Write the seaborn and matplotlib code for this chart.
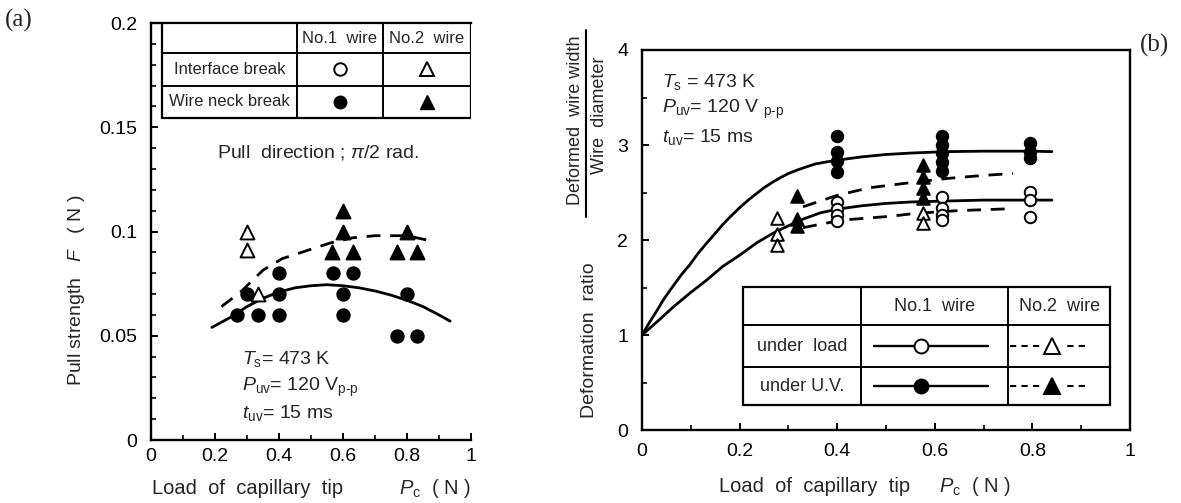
import numpy as np
import pandas as pd
import matplotlib
matplotlib.use("Agg")
import matplotlib.pyplot as plt
from matplotlib.patches import Rectangle
from matplotlib.ticker import MultipleLocator
import seaborn as sns

# ---------------- Panel (a): pull strength F (N) vs load Pc (N) ----------------
a_open_tri_x = [0.30, 0.30, 0.335]
a_open_tri_y = [0.100, 0.091, 0.070]
a_fill_tri_x = [0.60, 0.60, 0.566, 0.63, 0.80, 0.77, 0.83]
a_fill_tri_y = [0.110, 0.100, 0.090, 0.090, 0.100, 0.090, 0.090]
a_fill_circ_x = [0.27, 0.30, 0.335, 0.40, 0.40, 0.40, 0.57, 0.63, 0.60, 0.60, 0.80, 0.77, 0.83]
a_fill_circ_y = [0.060, 0.070, 0.060, 0.080, 0.070, 0.060, 0.080, 0.080, 0.070, 0.060, 0.070, 0.050, 0.050]

# trend curves (No.1 wire solid, No.2 wire dashed)
a_no1_x = [0.19, 0.25, 0.30, 0.35, 0.40, 0.45, 0.50, 0.55, 0.60, 0.65, 0.70, 0.75, 0.80, 0.85, 0.90, 0.935]
a_no1_y = [0.054, 0.059, 0.064, 0.068, 0.071, 0.073, 0.074, 0.0745, 0.074, 0.073, 0.0715, 0.0695, 0.067, 0.064, 0.060, 0.057]
a_no2_x = [0.22, 0.28, 0.35, 0.41, 0.49, 0.56, 0.63, 0.70, 0.80, 0.86]
a_no2_y = [0.064, 0.071, 0.0815, 0.087, 0.091, 0.0945, 0.097, 0.098, 0.098, 0.096]

a_xticks = [0, 0.2, 0.4, 0.6, 0.8, 1.0]
a_xticklabels = ["0", "0.2", "0.4", "0.6", "0.8", "1"]
a_yticks = [0, 0.05, 0.10, 0.15, 0.20]
a_yticklabels = ["0", "0.05", "0.1", "0.15", "0.2"]

# ---------------- Panel (b): deformation ratio vs load Pc (N) ----------------
b_open_circ_x = [0.40, 0.40, 0.40, 0.40, 0.615, 0.615, 0.615, 0.615, 0.795, 0.795, 0.795]
b_open_circ_y = [2.40, 2.33, 2.26, 2.20, 2.45, 2.34, 2.26, 2.21, 2.51, 2.42, 2.24]
b_fill_circ_x = [0.40, 0.40, 0.40, 0.40, 0.615, 0.615, 0.615, 0.615, 0.615, 0.795, 0.795, 0.795]
b_fill_circ_y = [3.10, 2.93, 2.83, 2.72, 3.10, 3.00, 2.92, 2.82, 2.73, 3.02, 2.93, 2.86]
b_open_tri_x = [0.277, 0.277, 0.277, 0.575, 0.575]
b_open_tri_y = [2.23, 2.06, 1.95, 2.28, 2.18]
b_fill_tri_x = [0.318, 0.318, 0.318, 0.575, 0.575, 0.575, 0.575]
b_fill_tri_y = [2.46, 2.22, 2.15, 2.79, 2.66, 2.55, 2.44]

b_uv1_x = [0, 0.015, 0.031, 0.045, 0.063, 0.08, 0.098, 0.115, 0.133, 0.15, 0.165, 0.18, 0.20,
           0.22, 0.235, 0.25, 0.268, 0.285, 0.30, 0.32, 0.337, 0.355, 0.37, 0.40, 0.45, 0.50,
           0.55, 0.62, 0.70, 0.80, 0.84]
b_uv1_y = [1.0, 1.13, 1.26, 1.38, 1.51, 1.63, 1.74, 1.86, 1.97, 2.07, 2.16, 2.24, 2.34,
           2.43, 2.49, 2.55, 2.61, 2.66, 2.70, 2.74, 2.77, 2.80, 2.815, 2.84, 2.875, 2.90,
           2.915, 2.93, 2.935, 2.935, 2.93]
b_load1_x = [0, 0.031, 0.063, 0.098, 0.133, 0.165, 0.20, 0.235, 0.268, 0.30, 0.33, 0.365,
             0.40, 0.45, 0.50, 0.55, 0.62, 0.70, 0.80, 0.84]
b_load1_y = [1.0, 1.14, 1.29, 1.44, 1.58, 1.72, 1.84, 1.97, 2.07, 2.15, 2.22, 2.285,
             2.325, 2.36, 2.385, 2.40, 2.41, 2.42, 2.42, 2.42]
b_uv2_x = [0.33, 0.40, 0.466, 0.56, 0.63, 0.70, 0.76]
b_uv2_y = [2.35, 2.47, 2.55, 2.61, 2.65, 2.68, 2.70]
b_load2_x = [0.33, 0.41, 0.51, 0.56, 0.65, 0.76]
b_load2_y = [2.13, 2.21, 2.25, 2.28, 2.31, 2.33]

b_xticks = [0, 0.2, 0.4, 0.6, 0.8, 1.0]
b_xticklabels = ["0", "0.2", "0.4", "0.6", "0.8", "1"]
b_yticks = [0, 1, 2, 3, 4]
b_yticklabels = ["0", "1", "2", "3", "4"]

# ---------------- style ----------------
sns.set_theme(style="ticks")
plt.rcParams.update({
    "font.family": ["Liberation Sans", "DejaVu Sans"],
    "mathtext.fontset": "custom",
    "mathtext.rm": "Liberation Sans",
    "mathtext.it": "Liberation Sans:italic",
    "mathtext.sf": "Liberation Sans",
    "axes.linewidth": 1.7,
    "axes.edgecolor": "black",
    "xtick.direction": "in",
    "ytick.direction": "in",
    "xtick.color": "black",
    "ytick.color": "black",
    "xtick.major.size": 5, "ytick.major.size": 5,
    "xtick.minor.size": 3.5, "ytick.minor.size": 3.5,
    "xtick.major.width": 1.4, "ytick.major.width": 1.4,
    "xtick.minor.width": 1.2, "ytick.minor.width": 1.2,
    "xtick.labelsize": 14, "ytick.labelsize": 14,
})

K = "black"
fig = plt.figure(figsize=(11.81, 5.03), dpi=100)
fig.patch.set_facecolor("white")
axA = fig.add_axes([0.1279, 0.1252, 0.2709, 0.829])
axB = fig.add_axes([0.5436, 0.1451, 0.4132, 0.7555])


def scatter(ax, x, y, marker, filled, s):
    sns.scatterplot(x=x, y=y, ax=ax, marker=marker, s=s,
                    color=(K if filled else "white"), edgecolor=K,
                    linewidth=1.4, zorder=4, legend=False)


def curve(ax, x, y, dashed):
    sns.lineplot(x=x, y=y, ax=ax, color=K, lw=2.0, sort=False, estimator=None,
                 zorder=3, legend=False)
    if dashed:
        ax.lines[-1].set_dashes([5, 3.5])


# ---- panel (a) ----
curve(axA, a_no1_x, a_no1_y, False)
curve(axA, a_no2_x, a_no2_y, True)
scatter(axA, a_fill_circ_x, a_fill_circ_y, "o", True, 80)
scatter(axA, a_open_tri_x, a_open_tri_y, "^", False, 100)
scatter(axA, a_fill_tri_x, a_fill_tri_y, "^", True, 100)

axA.set_xlim(0, 1)
axA.set_ylim(0, 0.2)
axA.set_xticks(a_xticks, a_xticklabels)
axA.set_yticks(a_yticks, a_yticklabels)
axA.xaxis.set_minor_locator(MultipleLocator(0.1))
axA.yaxis.set_minor_locator(MultipleLocator(0.01))
axA.tick_params(axis="y", which="both", pad=10)
axA.tick_params(axis="x", which="both", pad=6, top=False)
axA.tick_params(axis="y", which="both", right=False)
axA.spines["right"].set_visible(False)
axA.set_xlabel("")
axA.set_ylabel("")

# break-mode table at the top of panel (a)
tx = [0.034, 0.456, 0.725, 1.0]
ty = [0.2, 0.1856, 0.170, 0.1544]
axA.add_patch(Rectangle((tx[0], ty[3]), tx[3] - tx[0], ty[0] - ty[3],
                        facecolor="white", edgecolor=K, lw=1.6, zorder=5))
for yy in ty[1:3]:
    axA.plot([tx[0], tx[3]], [yy, yy], color=K, lw=1.4, zorder=6)
for xx in tx[1:3]:
    axA.plot([xx, xx], [ty[0], ty[3]], color=K, lw=1.4, zorder=6)
tab_fs = 12
rowc = [(ty[0] + ty[1]) / 2, (ty[1] + ty[2]) / 2, (ty[2] + ty[3]) / 2]
colc = [(tx[0] + tx[1]) / 2, (tx[1] + tx[2]) / 2, (tx[2] + tx[3]) / 2]
axA.text(colc[1], rowc[0], "No.1  wire", ha="center", va="center", fontsize=tab_fs, zorder=7)
axA.text(colc[2], rowc[0], "No.2  wire", ha="center", va="center", fontsize=tab_fs, zorder=7)
axA.text(colc[0], rowc[1], "Interface break", ha="center", va="center", fontsize=tab_fs, zorder=7)
axA.text(colc[0], rowc[2], "Wire neck break", ha="center", va="center", fontsize=tab_fs, zorder=7)
axA.plot(colc[1], rowc[1], "o", ms=9, mfc="white", mec=K, mew=1.4, zorder=7)
axA.plot(colc[2], rowc[1], "^", ms=10, mfc="white", mec=K, mew=1.4, zorder=7)
axA.plot(colc[1], rowc[2], "o", ms=9, mfc=K, mec=K, zorder=7)
axA.plot(colc[2], rowc[2], "^", ms=10, mfc=K, mec=K, zorder=7)

axA.text(0.52, 0.138, r"Pull  direction ; $\pi$/2 rad.", ha="center", va="center", fontsize=14)
axA.text(0.285, 0.0388, r"$T_{\rm s}$= 473 K", ha="left", va="center", fontsize=14)
axA.text(0.285, 0.0254, r"$P_{\rm uv}$= 120 V$_{\rm p\text{-}p}$", ha="left", va="center", fontsize=14)
axA.text(0.285, 0.0129, r"$t_{\rm uv}$= 15 ms", ha="left", va="center", fontsize=14)

# axis titles of panel (a)
fig.text(248 / 1181, 1 - 488 / 503, "Load  of  capillary  tip",
         ha="center", va="center", fontsize=14.5)
fig.text(435 / 1181, 1 - 488 / 503, r"$P_{\rm c}$  ( N )",
         ha="center", va="center", fontsize=14.5)
fig.text(0.065, 1 - 290 / 503, r"Pull strength   $F$   ( N )", rotation=90,
         ha="center", va="center", fontsize=14)

# ---- panel (b) ----
curve(axB, b_uv1_x, b_uv1_y, False)
curve(axB, b_load1_x, b_load1_y, False)
curve(axB, b_uv2_x, b_uv2_y, True)
curve(axB, b_load2_x, b_load2_y, True)
scatter(axB, b_fill_circ_x, b_fill_circ_y, "o", True, 68)
scatter(axB, b_open_circ_x, b_open_circ_y, "o", False, 68)
scatter(axB, b_open_tri_x, b_open_tri_y, "^", False, 82)
scatter(axB, b_fill_tri_x, b_fill_tri_y, "^", True, 82)

axB.set_xlim(0, 1)
axB.set_ylim(0, 4)
axB.set_xticks(b_xticks, b_xticklabels)
axB.set_yticks(b_yticks, b_yticklabels)
axB.xaxis.set_minor_locator(MultipleLocator(0.1))
axB.yaxis.set_minor_locator(MultipleLocator(0.5))
axB.tick_params(axis="y", which="both", pad=10, right=False)
axB.tick_params(axis="x", which="both", pad=9, top=False)
axB.set_xlabel("")
axB.set_ylabel("")

# legend table in panel (b)
bx = [0.206, 0.449, 0.751, 0.959]
by = [1.505, 1.105, 0.663, 0.263]
axB.add_patch(Rectangle((bx[0], by[3]), bx[3] - bx[0], by[0] - by[3],
                        facecolor="white", edgecolor=K, lw=1.6, zorder=5))
for yy in by[1:3]:
    axB.plot([bx[0], bx[3]], [yy, yy], color=K, lw=1.4, zorder=6)
for xx in bx[1:3]:
    axB.plot([xx, xx], [by[0], by[3]], color=K, lw=1.4, zorder=6)
brow = [(by[0] + by[1]) / 2, (by[1] + by[2]) / 2, (by[2] + by[3]) / 2]
bcol = [(bx[0] + bx[1]) / 2, (bx[1] + bx[2]) / 2, (bx[2] + bx[3]) / 2]
btab_fs = 13
axB.text(bcol[1], brow[0], "No.1  wire", ha="center", va="center", fontsize=btab_fs, zorder=7)
axB.text(bcol[2], brow[0], "No.2  wire", ha="center", va="center", fontsize=btab_fs, zorder=7)
axB.text(bcol[0], brow[1], "under  load", ha="center", va="center", fontsize=btab_fs, zorder=7)
axB.text(bcol[0], brow[2], "under U.V.", ha="center", va="center", fontsize=btab_fs, zorder=7)
for r, fc in ((brow[1], "white"), (brow[2], K)):
    axB.plot([0.475, 0.71], [r, r], color=K, lw=1.7, zorder=7)
    axB.plot(0.571, r, "o", ms=10, mfc=fc, mec=K, mew=1.4, zorder=8)
    ln, = axB.plot([0.755, 0.915], [r, r], color=K, lw=1.5, zorder=7)
    ln.set_dashes([3, 2.5])
    axB.add_patch(Rectangle((0.82, r - 0.12), 0.04, 0.24, facecolor="white",
                            edgecolor="none", zorder=7.5))
    axB.plot(0.84, r, "^", ms=11, mfc=fc, mec=K, mew=1.4, zorder=8)

axB.text(0.04, 3.66, r"$T_{\rm s}$ = 473 K", ha="left", va="center", fontsize=14)
axB.text(0.04, 3.37, r"$P_{\rm uv}$= 120 V $_{\rm p\text{-}p}$", ha="left", va="center", fontsize=14)
axB.text(0.04, 3.08, r"$t_{\rm uv}$= 15 ms", ha="left", va="center", fontsize=14)

# axis titles of panel (b)
fig.text(815 / 1181, 1 - 487 / 503, "Load  of  capillary  tip",
         ha="center", va="center", fontsize=14.5)
fig.text(975 / 1181, 1 - 487 / 503, r"$P_{\rm c}$  ( N )",
         ha="center", va="center", fontsize=14.5)
fig.text(590 / 1181, 1 - 340 / 503, "Deformation  ratio", rotation=90,
         ha="center", va="center", fontsize=14)
fig.text(575 / 1181, 1 - 120 / 503, "Deformed  wire width", rotation=90,
         ha="center", va="center", fontsize=13)
fig.text(599 / 1181, 1 - 115 / 503, "Wire  diameter", rotation=90,
         ha="center", va="center", fontsize=13)
fig.add_artist(plt.Line2D([586 / 1181, 586 / 1181], [1 - 217 / 503, 1 - 30 / 503],
                          color=K, lw=1.5, transform=fig.transFigure))

# panel letters
fig.text(5 / 1181, 1 - 20 / 503, "(a)", ha="left", va="center", fontsize=18,
         family=["Liberation Serif", "DejaVu Serif"])
fig.text(1140 / 1181, 1 - 45 / 503, "(b)", ha="left", va="center", fontsize=18,
         family=["Liberation Serif", "DejaVu Serif"])

fig.savefig("out.png", dpi=100, facecolor="white")
